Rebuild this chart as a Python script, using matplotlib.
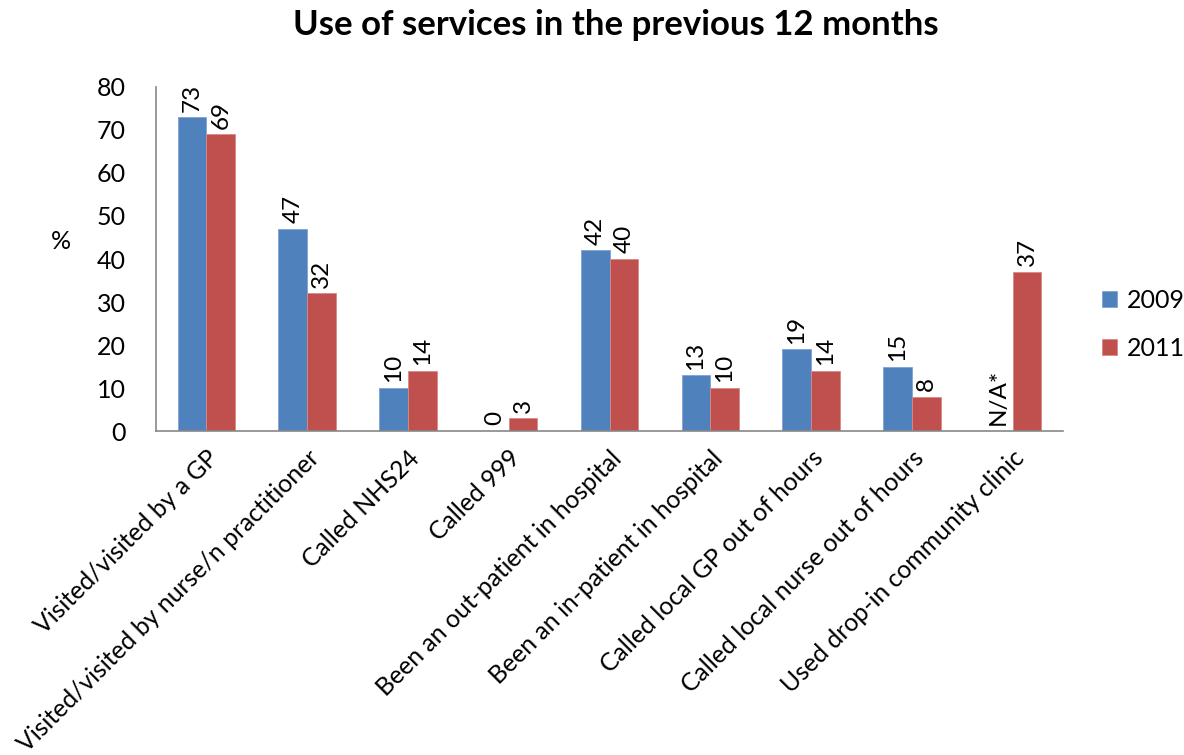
import numpy as np
import matplotlib.pyplot as plt

plt.rcParams['font.family'] = ['Lato', 'DejaVu Sans']

categories = [
    "Visited/visited by a GP",
    "Visited/visited by nurse/n practitioner",
    "Called NHS24",
    "Called 999",
    "Been an out-patient in hospital",
    "Been an in-patient in hospital",
    "Called local GP out of hours",
    "Called local nurse out of hours",
    "Used drop-in community clinic",
]
# None = not asked that year
values_2009 = [73, 47, 10, 0, 42, 13, 19, 15, None]
values_2011 = [69, 32, 14, 3, 40, 10, 14, 8, 37]

blue = "#4F81BD"
red = "#C0504D"

fig = plt.figure(figsize=(11.84, 7.55), dpi=100)
ax = fig.add_axes([0.1318, 0.4291, 0.766, 0.4557])

x = np.arange(len(categories))
width = 0.285

h09 = [0 if v is None else v for v in values_2009]
bars09 = ax.bar(x - width / 2, h09, width, color=blue, edgecolor="#7FA3D4",
                linewidth=0.6, label="2009")
bars11 = ax.bar(x + width / 2, values_2011, width, color=red, edgecolor="#D98A88",
                linewidth=0.6, label="2011")

for xi, v in zip(x - width / 2, values_2009):
    txt = "N/A*" if v is None else f"{v}"
    ax.annotate(txt, (xi, 0 if v is None else v), xytext=(0, 4),
                textcoords="offset points", rotation=90, ha="center",
                va="bottom", fontsize=17.5)
for xi, v in zip(x + width / 2, values_2011):
    ax.annotate(f"{v}", (xi, v), xytext=(0, 4), textcoords="offset points",
                rotation=90, ha="center", va="bottom", fontsize=17.5)

ax.set_xlim(-0.5, len(categories) - 0.5)
ax.set_ylim(0, 80)
ax.set_yticks(range(0, 81, 10))
ax.tick_params(axis="y", length=0, labelsize=18, pad=22)
ax.set_xticks(x)
ax.set_xticklabels(categories, rotation=45, ha="right", rotation_mode="anchor",
                   fontsize=17.8)
ax.tick_params(axis="x", length=0, pad=11)

for s in ["top", "right"]:
    ax.spines[s].set_visible(False)
for s in ["left", "bottom"]:
    ax.spines[s].set_color("#888888")
    ax.spines[s].set_linewidth(1.2)

ax.set_ylabel("%", rotation=0, fontsize=18, va="center")
ax.yaxis.set_label_coords(-0.105, 0.55)

fig.suptitle("Use of services in the previous 12 months", fontsize=25,
             fontweight="bold", x=0.52, y=0.988)

fig.legend(handles=[bars09, bars11], labels=["2009", "2011"],
           loc="center left", bbox_to_anchor=(0.912, 0.57), frameon=False,
           fontsize=18, handlelength=0.6, handleheight=0.6, labelspacing=1.0,
           handletextpad=0.4)

fig.savefig("out.png", dpi=100)
